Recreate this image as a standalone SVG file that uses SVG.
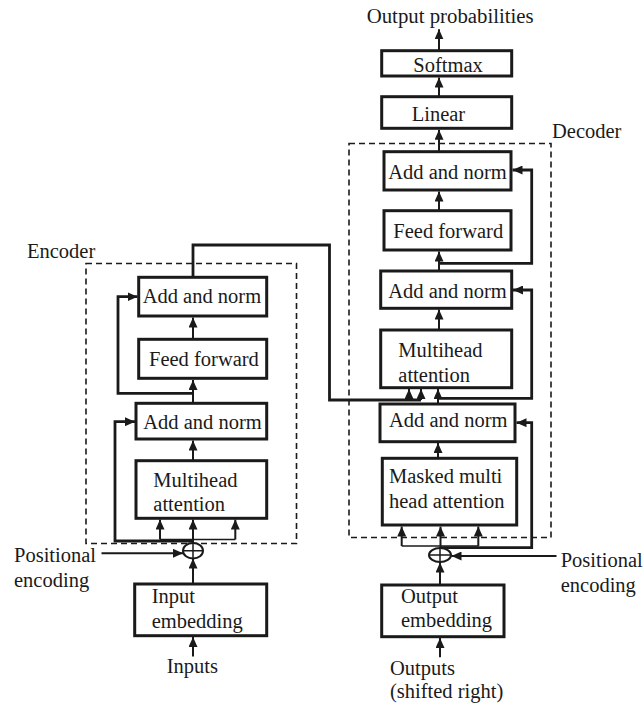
<svg xmlns="http://www.w3.org/2000/svg" width="644" height="706" viewBox="0 0 644 706" font-family="Liberation Serif, serif" font-size="20.5">
<style>
text{fill:#1a1a1a}
.box{fill:#fff;stroke:#1a1a1a;stroke-width:3}
.dash{fill:none;stroke:#1a1a1a;stroke-width:1.6;stroke-dasharray:6,4}
.c{fill:none;stroke:#1a1a1a;stroke-width:2;marker-end:url(#ah)}
.t{fill:none;stroke:#1a1a1a;stroke-width:2.8}
.tk{fill:none;stroke:#1a1a1a;stroke-width:2.8;marker-end:url(#ah)}
.th{fill:none;stroke:#1a1a1a;stroke-width:1.5}
</style>
<defs>
<marker id="ah" viewBox="0 0 10 9" refX="10" refY="4.5" markerWidth="10" markerHeight="9" orient="auto" markerUnits="userSpaceOnUse"><path d="M0,0 L10,4.5 L0,9 z" fill="#1a1a1a"/></marker>
</defs>
<rect width="644" height="706" fill="#fff"/>

<g id="encoder-frame">
<rect class="dash" x="86" y="263.5" width="210.5" height="280"/>
<text x="27" y="258">Encoder</text>
</g>
<g id="decoder-frame">
<rect class="dash" x="349" y="143.5" width="202" height="394"/>
<text x="552" y="138">Decoder</text>
</g>

<g id="connectors">
<path class="c" d="M193,656.5 V637"/>
<path class="c" d="M193,584 V558.5"/>
<path class="c" d="M101.5,553.3 H183"/>
<path class="c" d="M193,543 V519.5"/>
<path class="th" d="M160,539.5 H235.3"/>
<path class="c" d="M160,539.5 V519.5"/>
<path class="c" d="M235.3,539.5 V519.5"/>
<path class="tk" d="M193,541 H115 V421.7 H135"/>
<path class="c" d="M193,460.5 V440.5"/>
<path class="c" d="M193,403.5 V380"/>
<path class="tk" d="M193,393.3 H118 V296.7 H137.5"/>
<path class="c" d="M193,339.5 V317.5"/>
<path class="t" d="M193,277 V245 H329.5 V400 H421"/>
<path class="c" d="M409,400 V389"/>
<path class="c" d="M421,400 V389"/>
<path class="c" d="M440,657.3 V638"/>
<path class="c" d="M440,585 V562.5"/>
<path class="c" d="M556.5,556 H451.5"/>
<path class="c" d="M440.5,548 V526.5"/>
<path class="th" d="M401.7,546 H478.3"/>
<path class="c" d="M401.7,546 V526.5"/>
<path class="c" d="M478.3,546 V526.5"/>
<path class="tk" d="M440,547.7 H531.7 V422.7 H516.5"/>
<path class="c" d="M438,458.3 V443"/>
<path class="c" d="M438,404 V389"/>
<path class="tk" d="M438,398.3 H531.7 V290 H513"/>
<path class="c" d="M439,330 V309.5"/>
<path class="c" d="M439,271 V251.5"/>
<path class="tk" d="M440,263.3 H531.7 V170 H512.5"/>
<path class="c" d="M439,210.7 V191.5"/>
<path class="c" d="M439,151.7 V129.8"/>
<path class="c" d="M439,96.7 V77.5"/>
<path class="c" d="M439,50.7 V29.3"/>
</g>

<g id="enc-input-embedding">
<rect class="box" x="134.7" y="584" width="132" height="51.7"/>
<text x="151.7" y="603">Input</text>
<text x="151.7" y="628">embedding</text>
</g>
<g id="enc-inputs"><text x="166.7" y="673">Inputs</text></g>
<g id="enc-pos-label">
<text x="14" y="561.7">Positional</text>
<text x="14" y="586.7">encoding</text>
</g>
<g id="enc-add">
<ellipse cx="193" cy="550.7" rx="10" ry="7.8" fill="#fff" stroke="#1a1a1a" stroke-width="2"/>
<path d="M183,550.7 H203 M193,542.9 V558.5" stroke="#1a1a1a" stroke-width="1.5"/>
</g>
<g id="enc-multihead">
<rect class="box" x="136" y="460.7" width="130.7" height="57.6"/>
<text x="153.3" y="486.7">Multihead</text>
<text x="153.3" y="510.7">attention</text>
</g>
<g id="enc-addnorm1">
<rect class="box" x="136" y="403.3" width="130.7" height="35.7"/>
<text x="143.3" y="429.3">Add and norm</text>
</g>
<g id="enc-feedforward">
<rect class="box" x="138.7" y="339.3" width="128" height="39"/>
<text x="149" y="365.7">Feed forward</text>
</g>
<g id="enc-addnorm2">
<rect class="box" x="138.7" y="277.3" width="128" height="38.7"/>
<text x="142.7" y="303.3">Add and norm</text>
</g>

<g id="dec-output-embedding">
<rect class="box" x="381.7" y="585" width="122.3" height="51.7"/>
<text x="401" y="602.7">Output</text>
<text x="401" y="626.7">embedding</text>
</g>
<g id="dec-outputs">
<text x="390" y="675">Outputs</text>
<text x="390" y="698.3">(shifted right)</text>
</g>
<g id="dec-pos-label">
<text x="560.7" y="566.7">Positional</text>
<text x="560.7" y="591.7">encoding</text>
</g>
<g id="dec-add">
<ellipse cx="440" cy="555" rx="11" ry="7" fill="#fff" stroke="#1a1a1a" stroke-width="2"/>
<path d="M429,555 H451 M440,548 V562" stroke="#1a1a1a" stroke-width="1.5"/>
</g>
<g id="dec-masked">
<rect class="box" x="382.3" y="458.3" width="134.4" height="66.7"/>
<text x="389" y="483.3">Masked multi</text>
<text x="389" y="507.7">head attention</text>
</g>
<g id="dec-addnorm1">
<rect class="box" x="380" y="404" width="135" height="37.7"/>
<text x="389" y="426.5">Add and norm</text>
</g>
<g id="dec-multihead">
<rect class="box" x="380.7" y="330" width="131" height="57.7"/>
<text x="398.3" y="356.7">Multihead</text>
<text x="398.3" y="381.7">attention</text>
</g>
<g id="dec-addnorm2">
<rect class="box" x="380.7" y="271" width="131" height="37.3"/>
<text x="388.3" y="298.3">Add and norm</text>
</g>
<g id="dec-feedforward">
<rect class="box" x="384" y="210.7" width="127" height="39.3"/>
<text x="393.3" y="237.5">Feed forward</text>
</g>
<g id="dec-addnorm3">
<rect class="box" x="384" y="151.7" width="127" height="38.3"/>
<text x="388.3" y="179.3">Add and norm</text>
</g>
<g id="linear">
<rect class="box" x="381.7" y="96.7" width="130" height="31.6"/>
<text x="411.7" y="120.7">Linear</text>
</g>
<g id="softmax">
<rect class="box" x="381.7" y="50.7" width="130" height="25.3"/>
<text x="413.3" y="71.7">Softmax</text>
</g>
<g id="output-probabilities"><text x="366.7" y="22.7" font-size="20.8">Output probabilities</text></g>
</svg>
